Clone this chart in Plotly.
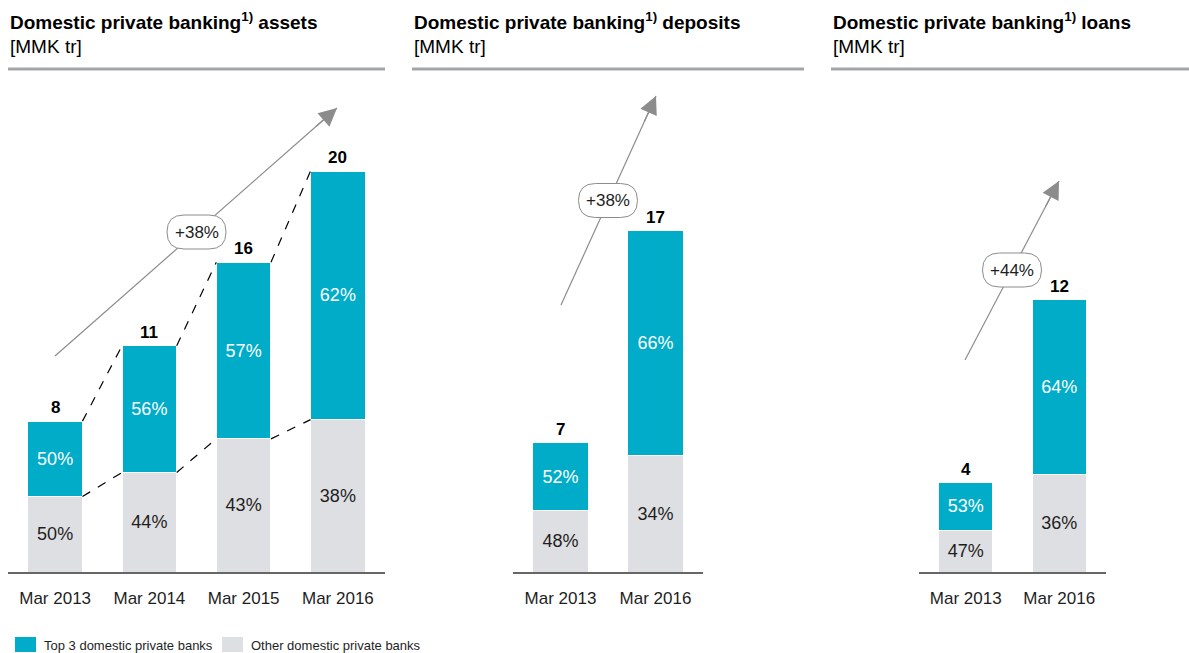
import plotly.graph_objects as go
from plotly.subplots import make_subplots

W, H = 1189, 653

# data
assets_cats = ["Mar 2013", "Mar 2014", "Mar 2015", "Mar 2016"]
assets_total = [7.6, 11.4, 15.6, 20.2]
assets_total_lbl = ["8", "11", "16", "20"]
assets_top3 = [50, 56, 57, 62]
assets_other = [50, 44, 43, 38]

deposits_cats = ["Mar 2013", "Mar 2016"]
deposits_total = [6.5, 17.2]
deposits_total_lbl = ["7", "17"]
deposits_top3 = [52, 66]
deposits_other = [48, 34]

loans_cats = ["Mar 2013", "Mar 2016"]
loans_total = [4.0, 12.2]
loans_total_lbl = ["4", "12"]
loans_top3 = [53, 64]
loans_other = [47, 36]

growth = ["+38%", "+38%", "+44%"]
titles = ["assets", "deposits", "loans"]

TEAL = "#00ACC8"
GREY = "#DEDFE2"
FONT = "Liberation Sans"


def px_x(p):
    return p / W


def px_y(p):
    return 1 - p / H


fig = make_subplots(rows=1, cols=3)

panels = [
    (assets_cats, assets_total, assets_total_lbl, assets_top3, assets_other),
    (deposits_cats, deposits_total, deposits_total_lbl, deposits_top3, deposits_other),
    (loans_cats, loans_total, loans_total_lbl, loans_top3, loans_other),
]

for i, (cats, tot, lbl, top, oth) in enumerate(panels):
    col = i + 1
    other_v = [t * o / 100 for t, o in zip(tot, oth)]
    top_v = [t * s / 100 for t, s in zip(tot, top)]
    fig.add_trace(go.Bar(x=cats, y=other_v, marker_color=GREY,
                         marker_line=dict(color="white", width=1),
                         text=[f"{o}%" for o in oth], textposition="inside",
                         insidetextanchor="middle", textangle=0,
                         textfont=dict(size=18, color="#1e1e1e", family=FONT),
                         showlegend=False, hoverinfo="skip"), row=1, col=col)
    fig.add_trace(go.Bar(x=cats, y=top_v, marker_color=TEAL,
                         marker_line=dict(color="white", width=1),
                         text=[f"{s}%" for s in top], textposition="inside",
                         insidetextanchor="middle", textangle=0,
                         textfont=dict(size=18, color="white", family=FONT),
                         showlegend=False, hoverinfo="skip"), row=1, col=col)
    # totals above the bars
    xr = "x" if col == 1 else f"x{col}"
    yr = "y" if col == 1 else f"y{col}"
    for c, t, l in zip(cats, tot, lbl):
        fig.add_annotation(x=c, y=t, xref=xr, yref=yr, text=f"<b>{l}</b>", showarrow=False,
                           xanchor="center", yanchor="bottom", yshift=2,
                           font=dict(size=17, color="black", family=FONT))

# axes layout
x_domains = [(8, 385), (513, 703), (919, 1106)]
y_dom = [px_y(572), px_y(72)]
y_ranges = [[0, 500 / 19.85], [0, 500 / 19.85], [0, 500 / 22.3]]
for i in range(3):
    sfx = "" if i == 0 else str(i + 1)
    fig.layout["xaxis" + sfx].update(domain=[px_x(x_domains[i][0]), px_x(x_domains[i][1])],
                                     showline=True, linecolor="#666666", linewidth=2,
                                     showgrid=False, zeroline=False, ticks="outside",
                                     ticklen=10, tickcolor="rgba(0,0,0,0)",
                                     tickfont=dict(size=17, color="#1e1e1e", family=FONT))
    fig.layout["yaxis" + sfx].update(domain=y_dom, range=y_ranges[i], visible=False)

# dashed connectors between assets bars
half = 0.29
cum_other = [t * o / 100 for t, o in zip(assets_total, assets_other)]
for j in range(len(assets_cats) - 1):
    for series in (assets_total, cum_other):
        fig.add_shape(type="line", xref="x", yref="y",
                      x0=j + half, y0=series[j], x1=j + 1 - half, y1=series[j + 1],
                      line=dict(color="black", width=1.2, dash="dash"))

# headers
header_x = [(8, 385), (412, 804), (831, 1189)]
for i, (x0, x1) in enumerate(header_x):
    fig.add_annotation(x=px_x(x0), y=px_y(21), xref="paper", yref="paper",
                       xanchor="left", yanchor="middle", showarrow=False,
                       text=f"<b>Domestic private banking<sup>1)</sup> {titles[i]}</b>",
                       font=dict(size=19, color="black", family=FONT))
    fig.add_annotation(x=px_x(x0), y=px_y(46), xref="paper", yref="paper",
                       xanchor="left", yanchor="middle", showarrow=False,
                       text="[MMK tr]", font=dict(size=19, color="black", family=FONT))
    fig.add_shape(type="line", xref="paper", yref="paper",
                  x0=px_x(x0), x1=px_x(x1), y0=px_y(69), y1=px_y(69),
                  line=dict(color="#A3A6A9", width=3))

# growth arrows with pill labels
arrows = [((55, 356), (337, 108), (196.5, 232)),
          ((561, 305), (656, 96), (608, 200.5)),
          ((965, 360), (1059, 181), (1012, 270))]


def pill(cx, cy, w, h):
    x0, x1 = cx - w / 2, cx + w / 2
    y0, y1 = cy - h / 2, cy + h / 2
    r = h / 2
    pts = [("M", x0 + r, y0), ("L", x1 - r, y0), ("Q", x1, y0, x1, cy), ("Q", x1, y1, x1 - r, y1),
           ("L", x0 + r, y1), ("Q", x0, y1, x0, cy), ("Q", x0, y0, x0 + r, y0)]
    out = ""
    for p in pts:
        cmd, coords = p[0], p[1:]
        xy = []
        for k in range(0, len(coords), 2):
            xy.append(f"{px_x(coords[k]):.5f},{px_y(coords[k + 1]):.5f}")
        out += cmd + " ".join(xy) + " "
    return out + "Z"


for i, (tail, tip, lab) in enumerate(arrows):
    fig.add_shape(type="line", xref="paper", yref="paper",
                  x0=px_x(tail[0]), y0=px_y(tail[1]), x1=px_x(tip[0]), y1=px_y(tip[1]),
                  line=dict(color="#8C8C8C", width=1.2))
    fig.add_shape(type="path", xref="paper", yref="paper", path=pill(lab[0], lab[1], 59, 34),
                  fillcolor="white", line=dict(color="#8C8C8C", width=1))
    fig.add_annotation(x=px_x(lab[0]), y=px_y(lab[1]), xref="paper", yref="paper",
                       xanchor="center", yanchor="middle", showarrow=False, text=growth[i],
                       font=dict(size=17, color="#1e1e1e", family=FONT))
    dx, dy = tail[0] - tip[0], tail[1] - tip[1]
    n = (dx * dx + dy * dy) ** 0.5
    fig.add_annotation(x=px_x(tip[0]), y=px_y(tip[1]), xref="paper", yref="paper",
                       ax=dx / n * 30, ay=dy / n * 30, text="", showarrow=True,
                       arrowhead=2, arrowsize=3, arrowwidth=1.2, arrowcolor="#8C8C8C")

# legend
legend_items = [("Top 3 domestic private banks", TEAL, 15), ("Other domestic private banks", GREY, 222)]
for name, color, x0 in legend_items:
    fig.add_shape(type="rect", xref="paper", yref="paper",
                  x0=px_x(x0), x1=px_x(x0 + 21), y0=px_y(652), y1=px_y(637),
                  fillcolor=color, line=dict(width=0))
    fig.add_annotation(x=px_x(x0 + 27), y=px_y(645), xref="paper", yref="paper",
                       xanchor="left", yanchor="middle", showarrow=False, text=name,
                       font=dict(size=13, color="#1e1e1e", family=FONT))

fig.update_layout(width=W, height=H, margin=dict(l=0, r=0, t=0, b=0),
                  barmode="stack", bargap=0.42, plot_bgcolor="white", paper_bgcolor="white",
                  uniformtext=dict(mode="show", minsize=10), showlegend=False)

fig.write_html("out.html", config={"displayModeBar": False},
               post_script="document.body.style.margin='0';")
